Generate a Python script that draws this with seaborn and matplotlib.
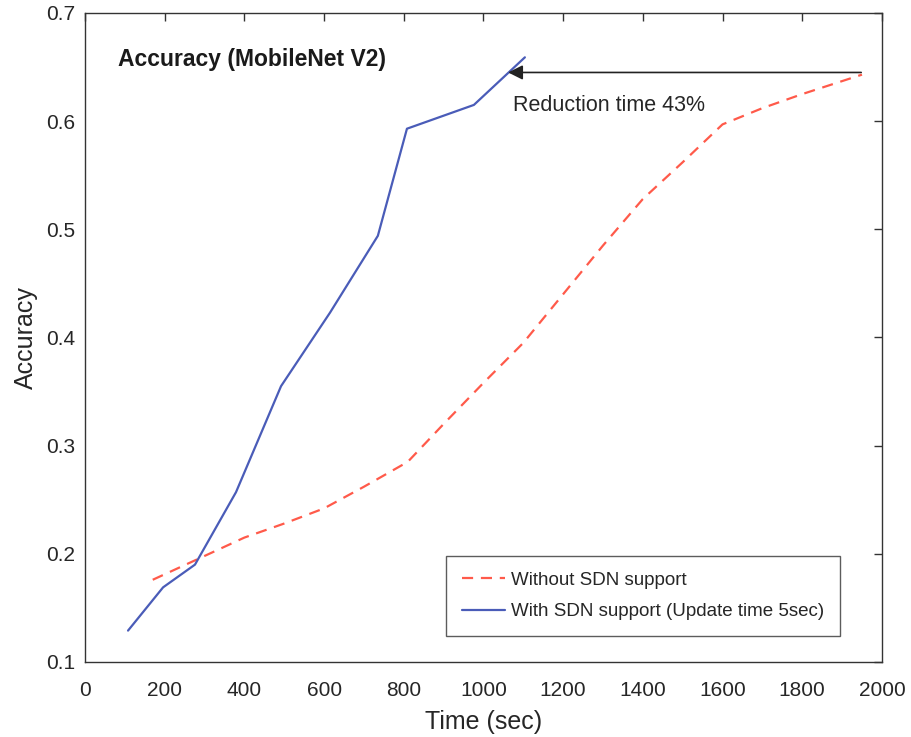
import matplotlib
matplotlib.use("Agg")
import matplotlib.pyplot as plt
import seaborn as sns
import pandas as pd

sns.set_theme(style="white")
plt.rcParams['font.family'] = ['Liberation Sans', 'DejaVu Sans']

# Data
time_without = [170, 300, 400, 500, 600, 700, 810, 900, 1000, 1100, 1200, 1300, 1400, 1500, 1600, 1700, 1800, 1950]
acc_without = [0.176, 0.198, 0.215, 0.228, 0.242, 0.262, 0.285, 0.320, 0.358, 0.395, 0.440, 0.485, 0.528, 0.562, 0.597, 0.612, 0.625, 0.643]
time_with = [108, 196, 276, 379, 492, 615, 735, 808, 976, 1104]
acc_with = [0.129, 0.169, 0.190, 0.257, 0.355, 0.423, 0.494, 0.593, 0.615, 0.659]
label_without = "Without SDN support"
label_with = "With SDN support (Update time 5sec)"
xticks = [0, 200, 400, 600, 800, 1000, 1200, 1400, 1600, 1800, 2000]
yticks = [0.1, 0.2, 0.3, 0.4, 0.5, 0.6, 0.7]

df_without = pd.DataFrame({"t": time_without, "a": acc_without})
df_with = pd.DataFrame({"t": time_with, "a": acc_with})

fig = plt.figure(figsize=(9.12, 7.37), dpi=100)
ax = fig.add_axes([0.0932, 0.1018, 0.8738, 0.8806])

red = "#ff5a4a"
blue = "#4a5cb8"
sns.lineplot(data=df_without, x="t", y="a", ax=ax, color=red, linestyle=(0, (5, 3.5)),
             linewidth=1.6, label=label_without)
sns.lineplot(data=df_with, x="t", y="a", ax=ax, color=blue, linewidth=1.6, label=label_with)

ax.set_xlim(0, 2000)
ax.set_ylim(0.1, 0.7)
ax.set_xticks(xticks)
ax.set_yticks(yticks)
ax.set_xticklabels([str(v) for v in xticks])
ax.set_yticklabels([f"{v:.1f}" for v in yticks])
ax.tick_params(direction="in", length=6, width=1, colors="#333333", labelsize=15,
               top=True, right=True, labelcolor="#262626")
ax.tick_params(axis="x", pad=14)
ax.tick_params(axis="y", pad=7)
for s in ax.spines.values():
    s.set_color("#333333")
    s.set_linewidth(1)
ax.set_xlabel("Time (sec)", fontsize=18, color="#262626", labelpad=7)
ax.set_ylabel("Accuracy", fontsize=18, color="#262626", labelpad=6)

ax.text(82, 0.657, "Accuracy (MobileNet V2)", fontsize=16.5, fontweight="bold",
        color="#1a1a1a", va="center", ha="left")
ax.annotate("", xy=(1055, 0.645), xytext=(1955, 0.645),
            arrowprops=dict(arrowstyle="-|>", color="#222222", lw=1.2, mutation_scale=22))
ax.text(1075, 0.614, "Reduction time 43%", fontsize=15.5, color="#262626", va="center", ha="left")

leg = ax.legend(loc="lower right", bbox_to_anchor=(0.947, 0.04), fontsize=13.5,
                frameon=True, fancybox=False, edgecolor="#333333", handlelength=2.3,
                handletextpad=0.3, borderpad=0.85, labelspacing=0.75,
                borderaxespad=0)
leg.get_frame().set_linewidth(1)

fig.savefig("out.png", dpi=100)
